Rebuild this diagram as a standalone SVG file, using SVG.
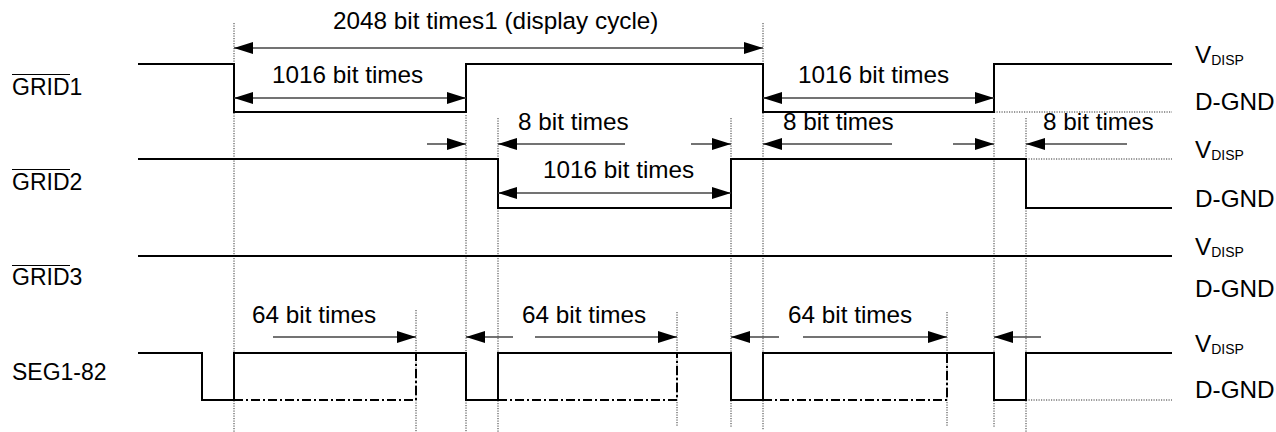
<svg xmlns="http://www.w3.org/2000/svg" width="1276" height="432" viewBox="0 0 1276 432">
<defs>
<style>
text{font-family:"Liberation Sans",Arial,sans-serif;font-size:24.3px;fill:#000}
.lab{font-size:23px}
.sub{font-size:14px}
.sig{fill:none;stroke:#000;stroke-width:2}
.dot{fill:none;stroke:#333;stroke-width:1;stroke-dasharray:1.2,1.3}
.dd{fill:none;stroke:#000;stroke-width:2;stroke-dasharray:9,3,2,3}
.arr{fill:none;stroke:#444;stroke-width:1.5}
.ol{stroke:#000;stroke-width:1.2}
</style>
<marker id="ah" viewBox="0 0 19 12" refX="19" refY="6" markerWidth="19" markerHeight="12" markerUnits="userSpaceOnUse" orient="auto-start-reverse">
<path d="M0,0 L19,6 L0,12 Z" fill="#000"/>
</marker>
</defs>

<g id="gridlines">
<line class="dot" x1="234" y1="23" x2="234" y2="432"/>
<line class="dot" x1="466" y1="115" x2="466" y2="432"/>
<line class="dot" x1="498" y1="118" x2="498" y2="432"/>
<line class="dot" x1="731" y1="118" x2="731" y2="427"/>
<line class="dot" x1="763" y1="23" x2="763" y2="430"/>
<line class="dot" x1="994" y1="118" x2="994" y2="427"/>
<line class="dot" x1="1026" y1="118" x2="1026" y2="432"/>
<line class="dot" x1="416" y1="310" x2="416" y2="432"/>
<line class="dot" x1="677" y1="312" x2="677" y2="427"/>
<line class="dot" x1="947" y1="312" x2="947" y2="427"/>
<line class="dot" x1="994" y1="112" x2="1172" y2="112"/>
<line class="dot" x1="1026" y1="159" x2="1172" y2="159"/>
<line class="dot" x1="1026" y1="400" x2="1172" y2="400"/>
</g>

<g id="grid1">
<text x="12" y="95" class="lab">GRID1</text>
<line class="ol" x1="12" y1="74.5" x2="70" y2="74.5"/>
<polyline class="sig" points="138,64 234,64 234,112 466,112 466,64 763,64 763,112 994,112 994,64 1172,64"/>
<text x="1195" y="63">V<tspan class="sub" dy="2">DISP</tspan></text>
<text x="1195" y="110">D-GND</text>
</g>

<g id="grid2">
<text x="12" y="190" class="lab">GRID2</text>
<line class="ol" x1="12" y1="169.5" x2="70" y2="169.5"/>
<polyline class="sig" points="138,159 498,159 498,208 731,208 731,159 1026,159 1026,208 1172,208"/>
<text x="1195" y="158">V<tspan class="sub" dy="2">DISP</tspan></text>
<text x="1195" y="207">D-GND</text>
</g>

<g id="grid3">
<text x="12" y="285" class="lab">GRID3</text>
<line class="ol" x1="12" y1="265.5" x2="70" y2="265.5"/>
<line class="sig" x1="138" y1="256" x2="1172" y2="256"/>
<text x="1195" y="255">V<tspan class="sub" dy="2">DISP</tspan></text>
<text x="1195" y="297">D-GND</text>
</g>

<g id="seg">
<text x="12" y="380" class="lab">SEG1-82</text>
<polyline class="sig" points="138,353 202,353 202,400 234,400 234,353 466,353 466,400 498,400 498,353 731,353 731,400 763,400 763,353 994,353 994,400 1026,400 1026,353 1172,353"/>
<polyline class="dd" points="234,400 416,400 416,353"/>
<polyline class="dd" points="498,400 677,400 677,353"/>
<polyline class="dd" points="763,400 947,400 947,353"/>
<text x="1195" y="352">V<tspan class="sub" dy="2">DISP</tspan></text>
<text x="1195" y="398">D-GND</text>
</g>

<g id="connectors">
<line class="arr" x1="234" y1="48" x2="763" y2="48" marker-start="url(#ah)" marker-end="url(#ah)"/>
<line class="arr" x1="234" y1="98" x2="466" y2="98" marker-start="url(#ah)" marker-end="url(#ah)"/>
<line class="arr" x1="763" y1="98" x2="994" y2="98" marker-start="url(#ah)" marker-end="url(#ah)"/>
<line class="arr" x1="498" y1="193" x2="731" y2="193" marker-start="url(#ah)" marker-end="url(#ah)"/>
<line class="arr" x1="427" y1="144" x2="466" y2="144" marker-end="url(#ah)"/>
<line class="arr" x1="625" y1="144" x2="498" y2="144" marker-end="url(#ah)"/>
<line class="arr" x1="691" y1="144" x2="731" y2="144" marker-end="url(#ah)"/>
<line class="arr" x1="892" y1="144" x2="763" y2="144" marker-end="url(#ah)"/>
<line class="arr" x1="953" y1="144" x2="994" y2="144" marker-end="url(#ah)"/>
<line class="arr" x1="1127" y1="144" x2="1026" y2="144" marker-end="url(#ah)"/>
<line class="arr" x1="273" y1="337" x2="416" y2="337" marker-end="url(#ah)"/>
<line class="arr" x1="513" y1="337" x2="466" y2="337" marker-end="url(#ah)"/>
<line class="arr" x1="535" y1="337" x2="677" y2="337" marker-end="url(#ah)"/>
<line class="arr" x1="779" y1="337" x2="731" y2="337" marker-end="url(#ah)"/>
<line class="arr" x1="803" y1="337" x2="947" y2="337" marker-end="url(#ah)"/>
<line class="arr" x1="1041" y1="337" x2="994" y2="337" marker-end="url(#ah)"/>
</g>

<g id="labels">
<text x="333" y="29">2048 bit times1 (display cycle)</text>
<text x="272" y="83">1016 bit times</text>
<text x="798" y="83">1016 bit times</text>
<text x="518" y="130">8 bit times</text>
<text x="783" y="130">8 bit times</text>
<text x="1043" y="130">8 bit times</text>
<text x="543" y="178">1016 bit times</text>
<text x="252" y="323">64 bit times</text>
<text x="522" y="323">64 bit times</text>
<text x="788" y="323">64 bit times</text>
</g>
</svg>
